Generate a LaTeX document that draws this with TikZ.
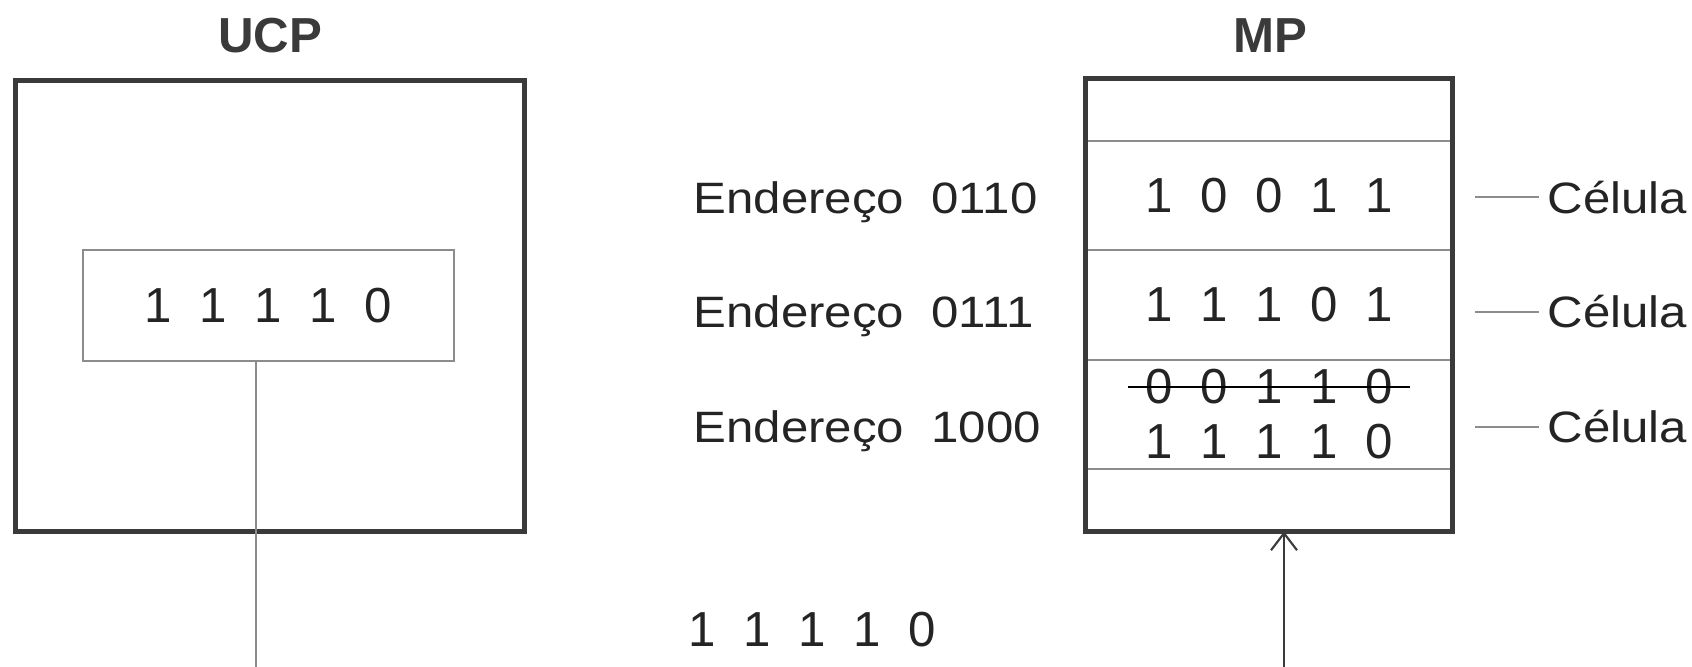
\documentclass[tikz,border=0pt]{standalone}
\usepackage{fontspec}
\setmainfont{Liberation Sans}
\newfontfamily\labelfont{Liberation Sans}[FakeStretch=1.12]
\usepackage{tikz}
\usetikzlibrary{positioning,arrows.meta}
\definecolor{frame}{HTML}{3A3A3A}
\definecolor{rule}{HTML}{8C8C8C}
\definecolor{ink}{HTML}{242424}
\newcommand{\bsp}{\hspace{0.56em}}
\newcommand{\bits}[5]{#1\bsp#2\bsp#3\bsp#4\bsp#5}
\tikzset{
  unitbox/.style={draw=frame, line width=1.4pt, minimum width=5.09cm, minimum height=4.51cm},
  regbox/.style={draw=rule, line width=0.5pt, minimum width=3.71cm, minimum height=1.11cm, inner sep=0pt, text=ink, font=\fontsize{14}{16}\selectfont},
  cellrow/.style={draw=rule, line width=0.5pt, minimum width=3.67cm, inner sep=0pt, outer sep=0pt, text=ink, font=\fontsize{14}{16}\selectfont},
  mpframe/.style={draw=frame, line width=1.4pt},
  boxtitle/.style={font=\fontsize{14}{16}\selectfont\bfseries, text=frame, inner sep=0pt, anchor=base},
  plaintext/.style={font=\fontsize{14}{16}\selectfont, text=ink, inner sep=0pt},
  addr/.style={font=\labelfont\fontsize{12.5}{15}\selectfont, text=ink, inner sep=0pt, anchor=base west},
  wire/.style={draw=rule, line width=0.5pt},
  strike/.style={draw=black, line width=0.6pt},
  arrow/.style={-{Straight Barb[length=1.7mm,width=2.6mm]}, draw=frame, line width=0.6pt}
}
\begin{document}
\begin{tikzpicture}
  \useasboundingbox (0,0) rectangle (16.92,-6.67);

  % processor and its register
  \node[unitbox] (ucp) at (2.70,-3.06) {};
  \node[regbox] (reg) at (2.685,-3.055) {\bits11110};
  \node[boxtitle] (ucptitle) at (2.70,-0.53) {UCP};

  % memory cells, stacked
  \node[cellrow, minimum height=6.25mm, anchor=north] (mtop) at (12.69,-0.785) {};
  \node[cellrow, minimum height=10.9mm, below=0pt of mtop] (cell1) {\bits10011};
  \node[cellrow, minimum height=11.0mm, below=0pt of cell1] (cell2) {\bits11101};
  \node[cellrow, minimum height=10.9mm, below=0pt of cell2] (cell3) {};
  \node[cellrow, minimum height=6.25mm, below=0pt of cell3] (mbot) {};
  \draw[mpframe] (mtop.north west) rectangle (mbot.south east);
  \node[boxtitle] (mptitle) at (12.70,-0.53) {MP};

  % old value overwritten by the new one
  \node[plaintext] (oldval) at ([yshift=2.75mm]cell3.center) {\bits00110};
  \node[plaintext] (newval) at ([yshift=-2.75mm]cell3.center) {\bits11110};
  \draw[strike] ([xshift=-1.7mm]oldval.west) -- ([xshift=1.7mm]oldval.east);

  % addresses
  \node[addr] (addr1) at (6.93,-2.13) {Endereço~~0110};
  \node[addr] (addr2) at (6.93,-3.27) {Endereço~~0111};
  \node[addr] (addr3) at (6.93,-4.42) {Endereço~~1000};

  % cell tags
  \node[addr] (tag1) at (15.47,-2.13) {Célula};
  \node[addr] (tag2) at (15.47,-3.27) {Célula};
  \node[addr] (tag3) at (15.47,-4.42) {Célula};
  \coordinate (tk1) at (14.75,-1.97);
  \coordinate (tk2) at (14.75,-3.12);
  \coordinate (tk3) at (14.75,-4.27);
  \draw[wire, shorten >=0.8mm] (tk1) -- (tk1 -| tag1.west);
  \draw[wire, shorten >=0.8mm] (tk2) -- (tk2 -| tag2.west);
  \draw[wire, shorten >=0.8mm] (tk3) -- (tk3 -| tag3.west);

  % data on the bus
  \node[plaintext, anchor=base west] (busval) at (6.88,-6.46) {\bits11110};
  \coordinate (ucpout) at (2.56,-6.67);
  \coordinate (mpin) at (12.84,-6.67);
  \draw[wire] (ucpout |- reg.south) -- (ucpout);
  \draw[arrow] (mpin) -- (mpin |- mbot.south);
\end{tikzpicture}
\end{document}
